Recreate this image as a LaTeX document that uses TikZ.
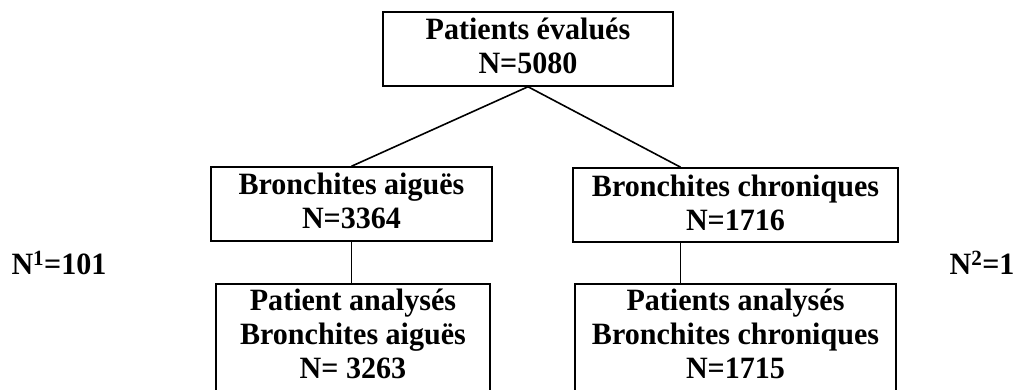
\documentclass[tikz,border=0pt]{standalone}
\usepackage{fontspec}
\setmainfont{Liberation Serif}[FakeStretch=0.97]
\usepackage{tikz}
\usetikzlibrary{positioning,calc}

\begin{document}
\begin{tikzpicture}[x=1pt, y=-1pt,
    font=\fontsize{31}{34}\selectfont\bfseries,
    flowbox/.style={draw, line width=1.5pt, align=center, inner xsep=0pt,
        inner ysep=6pt, text height=56pt, text depth=6pt, minimum height=74pt},
    openbox/.style={flowbox, anchor=north, inner ysep=5pt, text height=90pt, text depth=40pt},
    link/.style={line width=1.6pt}]
    \useasboundingbox (0,0) rectangle (1022,390);
    \clip (0,0) rectangle (1022,390);

    % Boxes of the flow chart
    \node[flowbox, minimum width=290pt] (evalues) at (528,49) {Patients évalués\\N=5080};
    \node[flowbox, minimum width=281pt] (aigues) at (351.5,204) {Bronchites aiguës\\N=3364};
    \node[flowbox, minimum width=325pt] (chron) at (735.5,205) {Bronchites chroniques\\N=1716};
    \node[openbox, minimum width=274pt] (aiguespat) at (353,283) {Patient analysés\\Bronchites aiguës\\N= 3263};
    \node[openbox, minimum width=321pt] (chronpat) at (735.5,283) {Patients analysés\\Bronchites chroniques\\N=1715};

    % Excluded counts
    \node (excla) at (59,263) {N\textsuperscript{1}=101};
    \node (exclc) at (982,263) {N\textsuperscript{2}=1};

    % Connectors
    \coordinate (chronin) at ($(chron.north west)!0.332!(chron.north east)$);
    \coordinate (chronout) at ($(chron.south west)!0.332!(chron.south east)$);
    \draw[link] (evalues.south) -- (aigues.north);
    \draw[link] (evalues.south) -- (chronin);
    \draw[link] (aigues.south) -- (aigues.south |- aiguespat.north);
    \draw[link] (chronout) -- (chronout |- chronpat.north);
\end{tikzpicture}
\end{document}
